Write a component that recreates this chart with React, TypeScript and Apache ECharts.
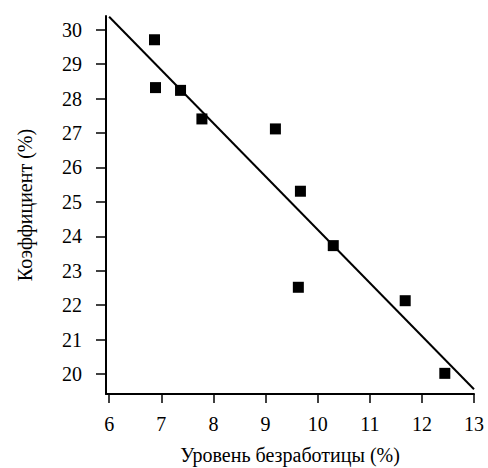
import React, { useEffect, useRef } from "react";
import * as echarts from "echarts";

const unemployment = [6.87, 6.89, 7.37, 7.78, 9.19, 9.67, 10.30, 9.63, 11.68, 12.44];
const coefficient = [29.71, 28.32, 28.24, 27.41, 27.12, 25.31, 23.73, 22.52, 22.13, 20.02];
const trendX = [6.0, 13.0];
const trendY = [30.38, 19.56];
const xTicks = [6, 7, 8, 9, 10, 11, 12, 13];
const yTicks = [20, 21, 22, 23, 24, 25, 26, 27, 28, 29, 30];

const FONT = "Liberation Serif";

export default function App() {
  const ref = useRef<HTMLDivElement>(null);
  useEffect(() => {
    if (!ref.current) return;
    const chart = echarts.init(ref.current, null, { renderer: "svg" });
    chart.setOption({
      animation: false,
      textStyle: { fontFamily: FONT },
      grid: { left: 106, right: 14, top: 16, bottom: 74, outerBoundsMode: "none", containLabel: false },
      xAxis: {
        type: "value",
        min: 5.94,
        max: 13,
        name: "Уровень безработицы (%)",
        nameLocation: "middle",
        nameGap: 51,
        nameTextStyle: { fontFamily: FONT, fontSize: 20, color: "#000" },
        axisLine: { show: true, lineStyle: { color: "#000", width: 2 } },
        axisTick: { show: true, length: 9, customValues: xTicks, lineStyle: { color: "#000", width: 1.5 } },
        axisLabel: { customValues: xTicks, margin: 20, fontFamily: FONT, fontSize: 20, color: "#000" },
        splitLine: { show: false },
      },
      yAxis: {
        type: "value",
        min: 19.42,
        max: 30.4,
        name: "Коэффициент (%)",
        nameLocation: "middle",
        nameGap: 71,
        nameTextStyle: { fontFamily: FONT, fontSize: 20, color: "#000" },
        axisLine: { show: true, lineStyle: { color: "#000", width: 2 } },
        axisTick: { show: true, length: 10, customValues: yTicks, lineStyle: { color: "#000", width: 1.5 } },
        axisLabel: { customValues: yTicks, margin: 24, fontFamily: FONT, fontSize: 20, color: "#000" },
        splitLine: { show: false },
      },
      series: [
        {
          type: "scatter",
          symbol: "rect",
          symbolSize: 11,
          itemStyle: { color: "#000", opacity: 1 },
          data: unemployment.map((x, i) => [x, coefficient[i]]),
          z: 3,
        },
        {
          type: "line",
          showSymbol: false,
          symbol: "none",
          lineStyle: { color: "#000", width: 2 },
          data: trendX.map((x, i) => [x, trendY[i]]),
          z: 2,
        },
      ],
    });
    return () => chart.dispose();
  }, []);
  return <div ref={ref} style={{ width: 488, height: 468, position: "absolute", left: 0, top: 0 }} />;
}
